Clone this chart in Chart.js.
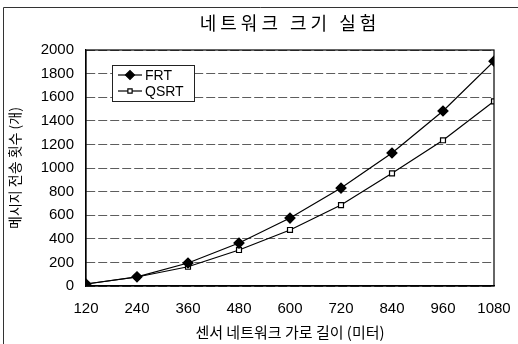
<!DOCTYPE html>
<html>
<head>
<meta charset="utf-8">
<script src="https://cdn.jsdelivr.net/npm/chart.js@4.4.1/dist/chart.umd.min.js"></script>
<style>
  html, body { margin: 0; padding: 0; background: #fff; }
  #wrap { position: relative; width: 518px; height: 344px; }
</style>
</head>
<body>
<div id="wrap"><canvas id="netcanvas" width="518" height="344"></canvas></div>
<script>
// 데이터
let widths = [120, 240, 360, 480, 600, 720, 840, 960, 1080];
let frtCounts = [17, 78, 195, 364, 576, 830, 1127, 1483, 1905];
let qsrtCounts = [17, 76, 163, 305, 475, 686, 955, 1235, 1565];
let seriesNames = ['FRT', 'QSRT'];
let chartTitle = '네트워크 크기 실험';

let fontFamily = '"Liberation Sans", Arial, "Noto Sans CJK KR", sans-serif';
let krFont = '"Noto Sans CJK KR", sans-serif';

function toPoints(values) {
    return widths.map(function(w, i) { return { x: w, y: values[i] }; });
}

// 바깥 테두리 + 차트 영역 박스 + 제목
const framePlugin = {
    id: 'frame',
    beforeDraw: function(chart) {
        let ctx = chart.ctx;
        ctx.save();
        ctx.fillStyle = '#fff';
        ctx.fillRect(0, 0, chart.width, chart.height);
        ctx.strokeStyle = '#333';
        ctx.lineWidth = 1;
        ctx.beginPath();
        ctx.moveTo(3.5, chart.height);
        ctx.lineTo(3.5, 7.5);
        ctx.lineTo(chart.width, 7.5);
        ctx.stroke();
        // 제목 (글자 간격 넓게)
        let a = chart.chartArea;
        ctx.fillStyle = '#000';
        ctx.font = '18px ' + krFont;
        ctx.textAlign = 'center';
        ctx.textBaseline = 'middle';
        if ('letterSpacing' in ctx) ctx.letterSpacing = '4px';
        ctx.fillText(chartTitle, (a.left + a.right) / 2, 23);
        ctx.restore();
    },
    afterDatasetsDraw: function(chart) {
        let a = chart.chartArea;
        let ctx = chart.ctx;
        ctx.save();
        ctx.strokeStyle = '#000';
        ctx.lineWidth = 1.2;
        ctx.strokeRect(a.left, a.top, a.right - a.left, a.bottom - a.top);
        ctx.restore();
    }
};

// 범례 (차트 영역 안쪽)
const boxLegend = {
    id: 'boxLegend',
    afterDraw: function(chart) {
        let a = chart.chartArea;
        let ctx = chart.ctx;
        let x = a.left + 26, y = a.top + 15, w = 82, h = 36;
        ctx.save();
        ctx.fillStyle = '#fff';
        ctx.fillRect(x, y, w, h);
        ctx.strokeStyle = '#222';
        ctx.lineWidth = 1;
        ctx.strokeRect(x + 0.5, y + 0.5, w, h);
        chart.data.datasets.forEach(function(ds, i) {
            let cy = y + 10 + i * 16;
            ctx.strokeStyle = '#000';
            ctx.lineWidth = 1.2;
            ctx.beginPath();
            ctx.moveTo(x + 6, cy);
            ctx.lineTo(x + 30, cy);
            ctx.stroke();
            ctx.fillStyle = ds.pointBackgroundColor;
            ctx.strokeStyle = '#000';
            Chart.helpers.drawPoint(ctx, {
                pointStyle: ds.pointStyle,
                radius: ds.pointRadius - 0.5,
                rotation: 0,
                borderWidth: 1.2
            }, x + 18, cy);
            ctx.fillStyle = '#000';
            ctx.font = '14px ' + fontFamily;
            ctx.textBaseline = 'middle';
            ctx.fillText(ds.label, x + 33, cy + 1);
        });
        ctx.restore();
    }
};

let lineCanvas = document.getElementById('netcanvas').getContext('2d');

let netChart = new Chart(lineCanvas, {
    type: 'line',
    data: {
        datasets: [{
            label: seriesNames[0],
            data: toPoints(frtCounts),
            borderColor: '#000',
            borderWidth: 1.2,
            pointStyle: 'rectRot',
            pointRadius: 5,
            pointBackgroundColor: '#000',
            pointBorderColor: '#000',
            tension: 0
        }, {
            label: seriesNames[1],
            data: toPoints(qsrtCounts),
            borderColor: '#000',
            borderWidth: 1.2,
            pointStyle: 'rect',
            pointRadius: 3.5,
            pointBackgroundColor: '#fff',
            pointBorderColor: '#000',
            pointBorderWidth: 1.2,
            tension: 0
        }]
    },
    options: {
        responsive: false,
        animation: false,
        layout: { padding: { left: 6, right: 24, top: 50, bottom: 3 } },
        plugins: {
            legend: { display: false },
            tooltip: { enabled: false },
            title: { display: false }
        },
        scales: {
            x: {
                type: 'linear',
                min: 120,
                max: 1080,
                afterFit: function(scale) {
                    scale.height = 55;
                    scale.paddingLeft = 0;
                    scale.paddingRight = 0;
                },
                ticks: {
                    stepSize: 120,
                    color: '#000',
                    font: { family: fontFamily, size: 15 },
                    padding: 14,
                    callback: function(v) { return String(v); }
                },
                grid: { display: false, drawTicks: false },
                border: { display: true, color: '#000', width: 1.2 },
                title: {
                    display: true,
                    text: '센서 네트워크 가로 길이 (미터)',
                    color: '#000',
                    font: { family: krFont, size: 15 },
                    padding: { top: 0, bottom: 0 }
                }
            },
            y: {
                min: 0,
                max: 2000,
                afterFit: function(scale) { scale.width = 80; },
                ticks: {
                    stepSize: 200,
                    color: '#000',
                    font: { family: fontFamily, size: 15 },
                    padding: 12,
                    callback: function(v) { return String(v); }
                },
                grid: {
                    color: '#333',
                    lineWidth: 0.8,
                    drawTicks: false
                },
                border: { display: true, color: '#000', width: 1.2, dash: [9, 3] },
                title: {
                    display: true,
                    text: '메시지 전송 횟수 (개)',
                    color: '#000',
                    font: { family: krFont, size: 14 },
                    padding: { top: 0, bottom: 6 }
                }
            }
        }
    },
    plugins: [framePlugin, boxLegend]
});
</script>
</body>
</html>
